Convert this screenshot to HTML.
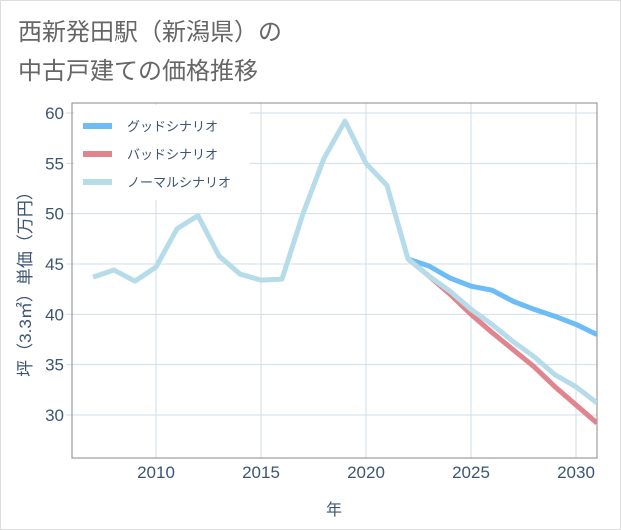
<!DOCTYPE html>
<html><head><meta charset="utf-8"><style>
body{margin:0;background:#fff;font-family:"Liberation Sans","Noto Sans CJK JP",sans-serif;}
#wrap{position:relative;width:619px;height:528px;border:1px solid #ddd;}
</style></head><body>
<div id="wrap">
<svg id="svg" width="621" height="530" style="position:absolute;left:-1px;top:-1px">
<text x="18" y="40" font-size="24" fill="#666" font-family="Liberation Sans,Noto Sans CJK JP,sans-serif">西新発田駅（新潟県）の</text>
<text x="18" y="79" font-size="24" fill="#666" font-family="Liberation Sans,Noto Sans CJK JP,sans-serif">中古戸建ての価格推移</text>
<g id="grid"></g>
<rect x="72" y="103" width="525" height="355" fill="none" stroke="#888" stroke-width="1"/>
<g id="series"></g>
<g id="legend"></g>
<text transform="translate(31,280) rotate(-90)" text-anchor="middle" font-size="17" fill="#3d5573" font-family="Liberation Sans,Noto Sans CJK JP,sans-serif">坪（3.3㎡）単価（万円）</text>
<text x="334" y="515" text-anchor="middle" font-size="16" fill="#3d5573" font-family="Liberation Sans,Noto Sans CJK JP,sans-serif">年</text>
</svg>
</div>
<script>
const years=[2007,2008,2009,2010,2011,2012,2013,2014,2015,2016,2017,2018,2019,2020,2021,2022,2023,2024,2025,2026,2027,2028,2029,2030,2031];
const normalValues=[43.7,44.4,43.3,44.7,48.5,49.8,45.8,44.0,43.4,43.5,50.0,55.5,59.2,55.0,52.8,45.5,43.8,42.3,40.5,39.0,37.3,35.8,34.0,32.8,31.2];
const futureYears=[2022,2023,2024,2025,2026,2027,2028,2029,2030,2031];
const goodValues=[45.5,44.8,43.6,42.8,42.4,41.3,40.5,39.8,39.0,38.0];
const badValues=[45.5,43.8,42.0,40.0,38.2,36.5,34.8,32.8,31.0,29.2];
const xTicks=[2010,2015,2020,2025,2030];
const yTicks=[30,35,40,45,50,55,60];
const legendLabels=["グッドシナリオ","バッドシナリオ","ノーマルシナリオ"];
const NS="http://www.w3.org/2000/svg";
const X=v=>156+(v-2010)*21;
const Y=v=>415-(v-30)*(302/30);
function mk(t,a,p){const e=document.createElementNS(NS,t);for(const k in a)e.setAttribute(k,a[k]);p.appendChild(e);return e;}
const grid=document.getElementById('grid');
xTicks.forEach(t=>{
 const l=mk('line',{x1:X(t),x2:X(t),y1:103,y2:458,stroke:'#cfdde8','stroke-width':1},grid);
 
 
 const s=mk('text',{x:X(t),y:478,'text-anchor':'middle','font-size':17,fill:'#3d5573'},grid);
 s.textContent=t;
 
 
});
yTicks.forEach(t=>{
 const l=mk('line',{x1:66,x2:597,y1:Y(t),y2:Y(t),stroke:'#cfdde8','stroke-width':1},grid);
 
 
 const s=mk('text',{x:64,y:Y(t)+6,'text-anchor':'end','font-size':17,fill:'#3d5573'},grid);
 s.textContent=t;
 
 
});
const ser=document.getElementById('series');
mk('clipPath',{id:'cp'},ser).appendChild(document.createElementNS(NS,'rect'));
const cr=ser.querySelector('#cp rect');cr.setAttribute('x',72);cr.setAttribute('y',103);cr.setAttribute('width',525);cr.setAttribute('height',355);
function line(xs,vs,c,name){
 const p=mk('polyline',{points:xs.map((x,i)=>X(x)+','+Y(vs[i])).join(' '),fill:'none',stroke:c,'stroke-width':5,'stroke-linejoin':'round','clip-path':'url(#cp)'},ser);
 
 
}
line(futureYears,goodValues,'#6cbcf5','good-scenario-line');
line(futureYears,badValues,'#e0848e','bad-scenario-line');
line(years,normalValues,'#b6dcea','normal-scenario-line');
const lg=document.getElementById('legend');
const bg=mk('rect',{x:74,y:105,width:176,height:95,fill:'#fff'},lg);


const cols=['#6cbcf5','#e0848e','#b6dcea'];
legendLabels.forEach((s,i)=>{
 const y=126+i*28;
 const sw=mk('line',{x1:83,x2:112,y1:y,y2:y,stroke:cols[i],'stroke-width':6},lg);
 
 
 const t=mk('text',{x:127,y:y+5,'font-size':13,fill:'#3d5573'},lg);
 t.textContent=s;
 
 
});
</script>
</body></html>
